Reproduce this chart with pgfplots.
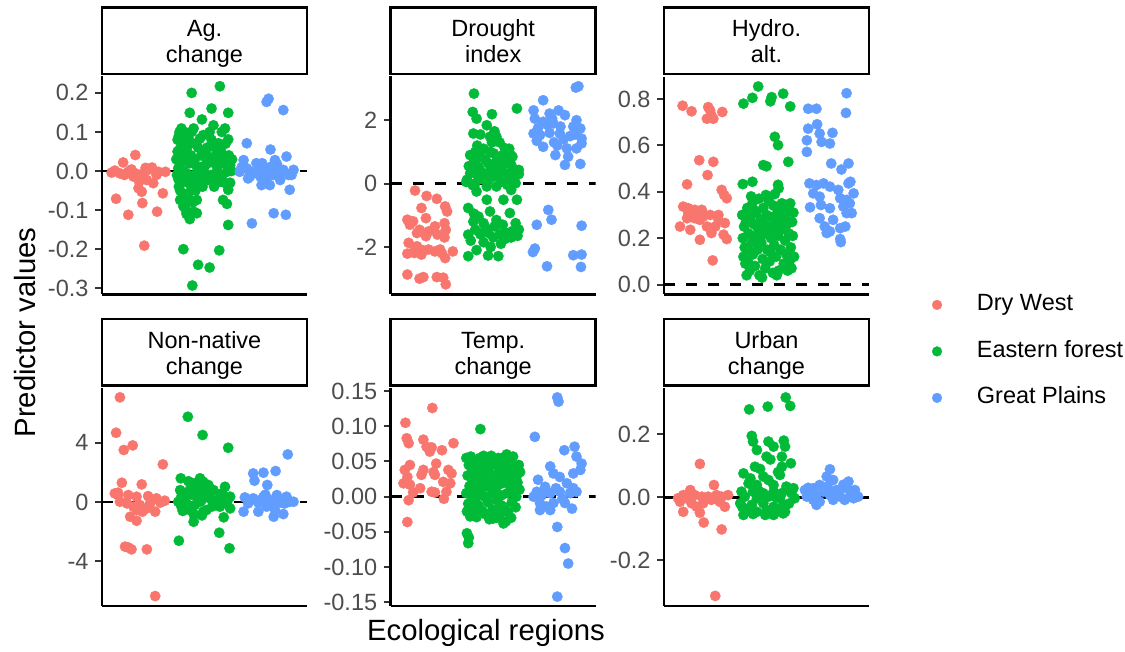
\documentclass[border=0pt]{standalone}
\usepackage{pgfplots}
\pgfplotsset{compat=1.18}
\usepackage{fontspec}
\setmainfont{Liberation Sans}
\definecolor{cR}{HTML}{F8766D}
\definecolor{cG}{HTML}{00BA38}
\definecolor{cB}{HTML}{619CFF}
\definecolor{tickgray}{HTML}{4D4D4D}
\newcommand{\tickfont}{\fontsize{23.5}{24}\selectfont}
\newcommand{\stripfont}{\fontsize{23.5}{24}\selectfont}
\pgfplotsset{
  panel/.style={
    scale only axis, width=205pt, height=218pt, anchor=south west,
    xmin=0.4, xmax=3.6,
    axis lines=left,
    axis line style={-, line width=2.6pt, black},
    xtick=\empty,
    tick align=outside,
    major tick length=7pt,
    ytick style={line width=2pt, color=black!80},
    yticklabel style={font=\tickfont, text=tickgray, xshift=-3pt},
    /pgf/number format/assume math mode=true,
  },
  strip/.style 2 args={
    extra description/.code={
      \draw[black, line width=2.6pt] ([yshift=2.6pt]axis description cs:0,1) rectangle ([yshift=68.8pt]axis description cs:1,1);
      \node[anchor=base, font=\stripfont, inner sep=0pt, yshift=39.7pt] at (axis description cs:0.5,1) {#1};
      \node[anchor=base, font=\stripfont, inner sep=0pt, yshift=13.8pt] at (axis description cs:0.5,1) {#2};
    }
  },
  pts/.style={only marks, mark=*, mark size=5.2pt, mark options={line width=0.3pt}},
  zline/.style={black, line width=2.5pt, dash pattern=on 11pt off 11pt, forget plot},
}
\begin{document}
\begin{tikzpicture}
\useasboundingbox (0,0) rectangle (1125pt,651pt);

% ---------- Panel 1: Ag. change
\begin{axis}[panel, at={(102pt,356.5pt)}, ymin=-0.316, ymax=0.242,
  ytick={-0.3,-0.2,-0.1,0,0.1,0.2}, yticklabels={-0.3,-0.2,-0.1,0.0,0.1,0.2},
  strip={Ag.}{change}]
\addplot[pts, color=cR] coordinates {(0.92,0.041)(0.73,0.022)(0.60,0.001)(0.68,-0.006)(0.81,-0.002)(0.92,-0.006)(1.02,-0.008)(1.12,0.003)(1.18,0.009)(1.28,-0.002)(1.39,-0.002)(1.10,-0.023)(1.20,-0.031)(1.02,-0.053)(1.35,-0.057)(0.62,-0.071)(1.03,-0.082)(1.26,-0.104)(0.81,-0.112)(1.06,-0.191)(0.98,-0.027)(0.89,-0.014)(0.55,-0.004)(1.25,-0.010)(0.97,-0.044)(0.75,-0.010)(1.08,0.008)(0.86,0.004)};
\addplot[pts, color=cG] coordinates {(1.80,0.200)(2.24,0.217)(1.77,0.149)(1.96,0.132)(2.11,0.160)(2.37,0.149)(2.14,0.117)(1.64,0.109)(1.83,0.109)(1.98,0.092)(2.32,0.109)(2.37,0.081)(2.27,0.100)(1.80,0.100)(1.70,0.079)(1.93,0.083)(2.01,0.049)(2.29,0.037)(1.62,0.058)(1.67,0.032)(1.77,0.020)(1.88,0.011)(2.03,0.020)(2.16,0.020)(2.40,0.015)(1.59,0.007)(1.72,-0.006)(1.98,-0.006)(2.19,-0.002)(2.35,-0.002)(1.64,-0.023)(1.83,-0.036)(1.93,-0.023)(2.06,-0.023)(2.24,-0.027)(2.37,-0.048)(1.75,-0.057)(1.88,-0.074)(1.70,-0.087)(1.83,-0.104)(1.77,-0.123)(1.88,-0.108)(2.29,-0.074)(2.35,-0.084)(2.37,-0.138)(1.67,-0.200)(1.90,-0.240)(2.08,-0.247)(2.23,-0.203)(1.81,-0.293)(1.62,-0.074)(1.72,0.037)(2.06,0.037)(2.14,0.062)(2.22,0.071)(1.56,0.03)(1.58,0.05)(1.60,0.09)(1.57,-0.01)(1.60,-0.04)(1.63,0.02)(1.65,0.07)(1.66,-0.06)(1.68,0.00)(1.69,0.10)(1.70,0.04)(1.71,-0.10)(1.73,0.06)(1.74,-0.03)(1.76,0.08)(1.78,-0.02)(1.79,0.04)(1.82,-0.08)(1.85,0.03)(1.86,-0.05)(1.90,0.06)(1.92,-0.01)(1.95,0.04)(1.97,-0.04)(2.00,0.01)(2.02,-0.02)(2.05,0.02)(2.08,0.10)(2.10,-0.01)(2.12,0.03)(2.15,-0.04)(2.18,0.04)(2.20,0.01)(2.26,0.05)(2.28,-0.01)(2.30,0.02)(2.33,0.07)(2.36,0.01)(2.40,-0.03)(2.42,0.00)(1.61,0.10)(1.59,-0.02)(1.64,0.04)(1.67,-0.09)(1.72,-0.11)(1.75,-0.07)(1.58,0.08)(1.62,-0.05)(1.68,0.06)(1.74,0.09)(1.79,-0.05)(1.86,0.07)(1.84,-0.01)(1.94,0.01)(2.04,0.06)(2.11,0.08)(2.17,-0.02)(2.25,0.02)(2.31,-0.03)(2.38,0.04)(2.43,0.03)};
\addplot[pts, color=cB] coordinates {(3.00,0.185)(2.97,0.177)(3.23,0.156)(2.66,0.071)(3.03,0.055)(3.28,0.037)(2.61,0.028)(2.81,0.020)(3.10,0.028)(2.66,0.007)(2.92,0.011)(2.97,-0.002)(3.23,0.003)(3.39,0.003)(2.76,-0.006)(2.87,-0.014)(2.55,-0.002)(2.71,-0.014)(3.07,-0.010)(3.18,-0.023)(2.89,-0.036)(3.02,-0.036)(3.33,-0.048)(2.74,-0.134)(3.08,-0.108)(3.27,-0.112)(3.15,-0.006)(3.31,-0.010)(2.68,-0.019)(2.97,-0.027)(2.58,0.010)(2.70,0.000)(2.84,0.005)(2.94,-0.015)(3.05,0.012)(3.12,-0.002)(3.20,0.000)(3.36,-0.010)(2.90,0.020)(3.13,0.018)};
\addplot[zline] coordinates {(0.4,0)(3.6,0)};
\end{axis}

% ---------- Panel 2: Drought index
\begin{axis}[panel, at={(390.7pt,356.5pt)}, ymin=-3.50, ymax=3.38,
  ytick={-2,0,2}, yticklabels={-2,0,2},
  strip={Drought}{index}]
\addplot[pts, color=cR] coordinates {(0.78,-0.22)(0.96,-0.39)(1.12,-0.48)(0.88,-0.77)(1.25,-0.72)(1.28,-0.88)(0.95,-1.09)(0.66,-1.14)(0.75,-1.19)(0.85,-1.46)(1.24,-1.25)(1.26,-1.46)(0.95,-1.66)(0.99,-1.51)(0.68,-1.87)(0.81,-1.98)(0.66,-2.21)(0.77,-2.19)(0.88,-2.24)(0.99,-2.08)(1.09,-2.14)(1.17,-2.08)(1.25,-2.35)(1.37,-2.14)(0.66,-2.87)(0.85,-3.00)(0.91,-2.95)(1.12,-2.95)(1.26,-3.18)(1.22,-2.97)(0.78,-2.04)(1.13,-1.61)(1.09,-1.35)(0.81,-1.56)(0.70,-1.30)(1.20,-2.20)(0.90,-2.10)(1.24,-1.70)(0.72,-1.20)};
\addplot[pts, color=cG] coordinates {(1.70,2.84)(2.37,2.37)(1.68,2.26)(1.98,2.19)(1.74,2.05)(1.90,1.84)(1.69,1.58)(1.95,1.48)(2.05,1.48)(2.10,1.30)(2.18,1.12)(1.98,1.30)(1.64,0.90)(1.80,0.85)(2.01,0.95)(2.22,0.80)(2.30,0.85)(1.77,0.53)(1.92,0.64)(2.13,0.53)(2.34,0.43)(2.40,0.43)(1.64,0.32)(1.85,0.32)(2.00,0.22)(2.22,0.32)(2.38,0.32)(1.59,0.12)(1.72,0.01)(1.90,-0.09)(2.05,-0.09)(2.22,-0.04)(2.35,0.01)(1.74,-0.25)(1.90,-0.51)(2.16,-0.51)(2.37,-0.51)(1.70,0.70)(1.85,1.10)(1.95,1.00)(2.05,0.70)(2.15,0.90)(2.25,1.10)(1.75,1.20)(1.80,0.40)(1.95,0.40)(2.10,0.20)(2.28,0.60)(1.62,0.55)(1.88,0.75)(2.00,0.50)(2.20,0.10)(2.32,0.20)(1.68,-0.05)(1.82,0.15)(2.12,0.05)(2.28,-0.20)(1.58,0.05)(1.80,1.55)(2.02,1.65)(1.72,1.00)(2.26,0.95)(1.66,0.45)(2.40,0.30)(1.76,0.25)(2.08,0.35)(1.92,0.10)(2.18,0.65)(1.61,-0.77)(1.77,-1.04)(1.95,-0.88)(2.26,-0.93)(1.69,-1.20)(1.85,-1.25)(2.05,-1.15)(2.15,-1.30)(2.35,-1.25)(1.61,-1.61)(1.72,-1.45)(1.80,-1.60)(1.92,-1.55)(2.00,-1.70)(2.10,-1.60)(2.20,-1.55)(2.30,-1.50)(2.40,-1.45)(1.65,-1.80)(1.85,-1.85)(1.96,-2.00)(2.12,-1.90)(2.28,-1.70)(1.61,-2.29)(1.74,-2.10)(1.92,-2.27)(2.08,-2.29)(2.18,-1.75)(1.70,-0.95)(2.38,-1.65)(1.88,-1.40)(2.02,-1.35)};
\addplot[pts, color=cB] coordinates {(3.29,3.03)(3.33,3.07)(2.78,2.63)(2.63,2.31)(2.88,2.21)(3.02,2.31)(2.65,2.05)(2.78,1.95)(3.12,2.16)(3.30,2.00)(2.94,1.90)(3.36,1.74)(2.63,1.58)(2.73,1.53)(2.88,1.60)(3.04,1.58)(3.20,1.50)(3.38,1.42)(2.78,1.16)(2.95,1.30)(3.38,1.27)(3.15,1.11)(3.30,1.11)(2.97,0.90)(3.17,0.85)(3.12,0.59)(3.36,0.62)(2.70,1.75)(2.85,1.85)(3.05,1.80)(3.25,1.80)(2.68,1.35)(3.10,1.40)(3.28,1.55)(3.00,1.20)(2.92,2.05)(2.86,-0.83)(2.91,-1.14)(2.68,-1.30)(3.38,-1.33)(2.62,-2.16)(2.65,-2.05)(3.25,-2.26)(3.38,-2.24)(2.84,-2.61)(3.37,-2.63)};
\addplot[zline] coordinates {(0.4,0)(3.6,0)};
\end{axis}

% ---------- Panel 3: Hydro. alt.
\begin{axis}[panel, at={(664pt,356.5pt)}, ymin=-0.043, ymax=0.897,
  ytick={0,0.2,0.4,0.6,0.8}, yticklabels={0.0,0.2,0.4,0.6,0.8},
  strip={Hydro.}{alt.},
  legend style={at={(axis description cs:1.307,-0.261)}, anchor=west, draw=none, fill=none,
    font=\fontsize{23.5}{24}\selectfont, inner sep=0pt,
    nodes={inner sep=0pt, text height=17pt, text depth=5pt},
    row sep=24.5pt, column sep=35pt},
  legend cell align=left,
  legend image code/.code={\draw[mark repeat=2,mark phase=2,#1,mark size=4.9pt] plot coordinates {(0pt,0pt)(5pt,0pt)(10pt,0pt)};}]
\addplot[pts, color=cR] coordinates {(0.69,0.771)(0.83,0.747)(1.09,0.765)(1.12,0.751)(1.07,0.715)(1.17,0.715)(1.31,0.744)(1.14,0.730)(0.95,0.536)(1.17,0.529)(1.08,0.472)(0.76,0.432)(1.30,0.408)(1.34,0.386)(1.38,0.372)(0.70,0.336)(0.78,0.329)(0.88,0.322)(0.99,0.322)(0.76,0.286)(0.88,0.286)(1.01,0.293)(1.12,0.300)(1.25,0.300)(0.65,0.250)(0.81,0.236)(1.07,0.250)(1.20,0.250)(1.35,0.265)(0.96,0.193)(1.33,0.215)(1.38,0.196)(1.16,0.104)(1.25,0.279)(0.96,0.279)(0.78,0.308)(1.14,0.222)};
\addlegendentry{Dry West}
\addplot[pts, color=cG] coordinates {(1.87,0.854)(1.78,0.805)(1.64,0.780)(2.08,0.808)(2.06,0.790)(2.26,0.823)(2.37,0.768)(2.13,0.637)(2.18,0.601)(1.95,0.515)(2.00,0.510)(2.34,0.529)(1.63,0.433)(1.78,0.443)(2.18,0.430)(2.19,0.415)(1.99,0.386)(1.62,0.30)(1.65,0.25)(1.63,0.20)(1.66,0.16)(1.64,0.12)(1.68,0.27)(1.70,0.33)(1.72,0.22)(1.71,0.10)(1.74,0.06)(1.75,0.29)(1.77,0.18)(1.78,0.35)(1.80,0.26)(1.79,0.13)(1.82,0.08)(1.84,0.31)(1.83,0.21)(1.86,0.15)(1.88,0.37)(1.87,0.24)(1.89,0.04)(1.91,0.28)(1.92,0.18)(1.94,0.11)(1.95,0.33)(1.97,0.22)(1.98,0.07)(2.00,0.30)(2.01,0.15)(2.03,0.25)(2.04,0.36)(2.05,0.10)(2.07,0.20)(2.08,0.29)(2.10,0.05)(2.11,0.34)(2.12,0.17)(2.14,0.26)(2.15,0.12)(2.17,0.31)(2.18,0.21)(2.19,0.06)(2.21,0.28)(2.22,0.15)(2.24,0.35)(2.25,0.24)(2.27,0.09)(2.28,0.30)(2.29,0.19)(2.31,0.13)(2.32,0.26)(2.34,0.33)(2.35,0.22)(2.36,0.10)(2.38,0.16)(2.40,0.27)(2.41,0.21)(2.43,0.12)(2.39,0.07)(1.69,0.04)(1.73,0.14)(1.81,0.32)(1.93,0.03)(2.02,0.37)(2.16,0.04)(2.26,0.33)(2.33,0.06)(1.85,0.19)(1.96,0.26)(2.06,0.14)(2.20,0.23)(2.30,0.28)(1.67,0.09)(2.42,0.31)(1.76,0.38)(2.13,0.39)(2.37,0.35)(1.90,0.20)(2.09,0.24)};
\addlegendentry{Eastern forest}
\addplot[pts, color=cB] coordinates {(3.25,0.825)(3.24,0.740)(2.65,0.758)(2.78,0.758)(2.79,0.691)(2.65,0.672)(2.83,0.651)(3.03,0.654)(2.63,0.622)(2.86,0.615)(2.99,0.608)(2.63,0.572)(3.01,0.522)(3.28,0.522)(3.17,0.496)(2.67,0.436)(2.78,0.429)(2.89,0.436)(2.99,0.422)(3.12,0.408)(3.28,0.436)(3.31,0.443)(2.73,0.393)(2.83,0.379)(3.15,0.372)(3.25,0.365)(2.68,0.333)(2.85,0.343)(2.99,0.329)(3.20,0.336)(3.30,0.350)(2.83,0.286)(3.25,0.308)(3.33,0.308)(2.91,0.250)(2.99,0.229)(3.15,0.243)(3.23,0.250)(2.94,0.222)(3.15,0.196)(3.16,0.183)(3.04,0.279)(3.36,0.393)};
\addlegendentry{Great Plains}
\addplot[zline] coordinates {(0.4,0)(3.6,0)};
\end{axis}

% ---------- Panel 4: Non-native change
\begin{axis}[panel, at={(102pt,45pt)}, ymin=-7.01, ymax=7.69,
  ytick={-4,0,4}, yticklabels={-4,0,4},
  strip={Non-native}{change}]
\addplot[pts, color=cR] coordinates {(0.68,7.06)(0.62,4.67)(0.74,3.51)(0.88,3.82)(1.35,2.54)(0.71,1.30)(1.02,1.19)(0.60,0.58)(0.65,0.47)(0.81,0.47)(0.94,0.36)(1.12,0.40)(1.25,0.25)(1.38,0.09)(0.79,-0.09)(0.89,-0.31)(0.99,-0.20)(1.10,-0.43)(1.23,-0.65)(0.94,-0.54)(0.84,-0.99)(0.94,-1.26)(1.03,-0.65)(0.76,-3.01)(0.86,-3.19)(1.10,-3.19)(1.23,-6.34)(0.68,0.02)(1.31,-0.04)(1.15,-0.09)(0.65,0.63)(1.18,0.13)(0.81,-3.06)};
\addplot[pts, color=cG] coordinates {(1.74,5.75)(1.97,4.52)(2.37,3.66)(1.63,1.60)(1.93,1.60)(1.83,1.26)(1.98,1.37)(2.06,1.15)(1.77,0.81)(1.88,0.92)(2.14,0.81)(2.32,1.03)(1.93,0.70)(1.70,0.58)(1.64,0.36)(1.88,0.36)(2.03,0.47)(2.24,0.36)(2.40,0.36)(1.59,0.02)(1.72,-0.09)(1.93,0.02)(2.14,-0.09)(2.35,-0.09)(1.64,-0.31)(1.77,-0.54)(2.03,-0.54)(2.24,-0.31)(2.40,-0.43)(1.83,-0.81)(1.98,-0.65)(1.83,-1.33)(2.30,-1.03)(1.60,-2.61)(2.23,-2.07)(2.39,-3.12)(1.68,0.20)(1.80,0.50)(1.95,0.10)(2.10,0.20)(2.20,-0.10)(1.85,-0.20)(2.05,1.00)(1.75,1.40)(1.90,1.20)(2.00,0.30)(1.66,-0.60)(2.28,0.60)(2.12,-0.30)(1.96,-0.90)(2.36,0.10)(1.62,0.80)};
\addplot[pts, color=cB] coordinates {(3.30,3.21)(3.11,2.09)(2.76,1.93)(2.92,1.98)(2.78,1.44)(2.98,1.15)(2.63,0.31)(2.76,0.25)(2.92,0.36)(3.13,0.47)(3.28,0.36)(3.39,0.02)(2.68,-0.09)(2.84,-0.04)(3.02,0.13)(3.18,-0.04)(3.33,0.02)(2.61,-0.65)(2.84,-0.65)(3.10,-0.54)(3.23,-0.81)(3.08,-0.99)(2.97,-0.31)(2.70,0.05)(2.88,0.15)(3.05,-0.20)(3.25,-0.10)(2.95,0.50)(3.15,0.20)};
\addplot[zline] coordinates {(0.4,0)(3.6,0)};
\end{axis}

% ---------- Panel 5: Temp. change
\begin{axis}[panel, at={(390.7pt,45pt)}, ymin=-0.1553, ymax=0.1544,
  ytick={-0.15,-0.1,-0.05,0,0.05,0.1,0.15}, yticklabels={-0.15,-0.10,-0.05,0.00,0.05,0.10,0.15},
  strip={Temp.}{change}]
\addplot[pts, color=cR] coordinates {(1.05,0.126)(0.63,0.105)(0.65,0.083)(0.68,0.076)(0.91,0.081)(0.96,0.071)(1.04,0.070)(1.38,0.076)(1.01,0.064)(1.20,0.066)(1.11,0.047)(0.70,0.045)(0.62,0.038)(0.91,0.038)(1.07,0.035)(1.30,0.038)(1.35,0.033)(0.66,0.028)(0.88,0.031)(1.09,0.031)(0.60,0.019)(0.70,0.017)(1.22,0.021)(1.33,0.019)(0.86,0.012)(0.75,0.006)(1.04,0.007)(1.09,0.006)(1.27,0.007)(0.68,-0.005)(1.23,-0.003)(0.66,-0.036)};
\addplot[pts, color=cG] coordinates {(1.80,0.096)(1.59,-0.052)(1.62,-0.058)(1.61,-0.066)(2.16,-0.038)(2.00,-0.031)(1.74,-0.029)(1.59,-0.021)(1.58,0.055)(1.62,0.045)(1.60,0.030)(1.63,0.015)(1.58,0.005)(1.61,-0.010)(1.65,0.057)(1.67,0.038)(1.68,0.022)(1.66,0.002)(1.69,-0.015)(1.70,0.050)(1.72,0.030)(1.73,0.010)(1.71,-0.005)(1.74,0.045)(1.76,0.020)(1.77,-0.012)(1.79,0.055)(1.80,0.035)(1.81,0.008)(1.83,-0.020)(1.84,0.042)(1.86,0.025)(1.87,0.000)(1.89,0.050)(1.90,0.015)(1.92,-0.008)(1.93,0.035)(1.95,0.044)(1.96,0.020)(1.98,0.005)(1.99,-0.018)(2.01,0.030)(2.03,0.048)(2.04,0.012)(2.06,-0.005)(2.07,0.025)(2.09,0.040)(2.10,-0.025)(2.11,0.018)(2.13,0.002)(2.14,0.055)(2.15,0.033)(2.17,-0.015)(2.18,0.045)(2.19,0.020)(2.21,0.060)(2.22,0.005)(2.23,-0.022)(2.25,0.038)(2.26,0.052)(2.27,0.015)(2.29,-0.008)(2.30,0.028)(2.31,0.057)(2.33,0.042)(2.34,0.010)(2.35,-0.015)(2.37,0.030)(2.38,0.020)(2.40,0.045)(2.41,0.010)(2.42,0.035)(2.36,0.000)(2.28,-0.030)(2.20,-0.035)(2.05,-0.030)(1.88,-0.025)(1.75,-0.020)(1.64,-0.028)(2.12,-0.012)(1.97,0.058)(1.85,0.058)(2.02,0.022)(2.24,0.028)(1.78,0.002)(1.94,-0.032)(2.08,0.055)};
\addplot[pts, color=cB] coordinates {(3.00,0.141)(3.02,0.135)(2.65,0.085)(3.11,0.066)(3.27,0.071)(3.30,0.057)(3.38,0.047)(2.89,0.043)(2.94,0.033)(3.04,0.028)(3.25,0.033)(3.36,0.038)(2.70,0.024)(2.81,0.014)(3.15,0.019)(3.25,0.012)(2.68,0.007)(2.89,0.005)(3.04,0.007)(3.20,0.005)(3.30,0.007)(2.63,0.000)(2.73,-0.009)(2.83,-0.014)(2.94,-0.009)(3.12,-0.009)(3.23,-0.017)(2.73,-0.019)(2.89,-0.019)(3.00,-0.043)(3.12,-0.073)(3.17,-0.095)(3.00,-0.142)(2.98,0.012)(3.08,-0.003)(2.76,0.002)};
\addplot[zline] coordinates {(0.4,0)(3.6,0)};
\end{axis}

% ---------- Panel 6: Urban change
\begin{axis}[panel, at={(664pt,45pt)}, ymin=-0.345, ymax=0.347,
  ytick={-0.2,0,0.2}, yticklabels={-0.2,0.0,0.2},
  strip={Urban}{change}]
\addplot[pts, color=cR] coordinates {(0.96,0.106)(1.18,0.039)(0.81,0.023)(0.70,0.007)(0.62,-0.003)(0.75,-0.003)(0.88,0.007)(0.99,0.002)(1.09,0.002)(1.22,0.007)(1.30,0.002)(1.40,0.007)(0.65,-0.014)(0.83,-0.019)(1.01,-0.019)(1.14,-0.008)(1.27,-0.014)(1.35,-0.030)(0.70,-0.046)(0.96,-0.049)(1.02,-0.080)(1.30,-0.102)(1.20,-0.313)(0.91,-0.030)};
\addplot[pts, color=cG] coordinates {(2.30,0.317)(2.37,0.290)(2.02,0.288)(1.73,0.279)(1.77,0.195)(1.79,0.177)(2.03,0.177)(2.27,0.180)(2.11,0.161)(1.85,0.150)(2.00,0.129)(2.24,0.129)(2.29,0.161)(2.38,0.108)(1.82,0.097)(2.24,0.097)(1.64,0.076)(2.21,0.071)(1.95,0.066)(2.03,0.055)(1.72,0.044)(1.85,0.039)(2.11,0.039)(2.31,0.034)(2.42,0.029)(1.61,0.018)(1.79,0.018)(1.95,0.013)(2.11,0.018)(2.24,0.013)(2.39,0.013)(1.66,0.002)(1.85,-0.003)(2.03,0.002)(2.21,-0.003)(2.44,-0.003)(1.59,-0.019)(1.77,-0.024)(1.95,-0.019)(2.11,-0.030)(2.26,-0.024)(1.69,-0.040)(1.85,-0.046)(2.00,-0.040)(2.16,-0.046)(2.29,-0.046)(1.64,-0.056)(1.79,-0.053)(1.98,-0.056)(2.11,-0.056)(2.26,-0.051)(1.75,0.060)(1.90,0.090)(2.06,0.120)(2.18,0.080)(1.62,-0.030)(2.35,-0.020)(2.15,0.000)(1.88,0.020)};
\addplot[pts, color=cB] coordinates {(2.99,0.089)(3.04,0.055)(2.94,0.066)(3.28,0.050)(2.83,0.039)(2.73,0.029)(2.60,0.023)(2.68,0.013)(2.89,0.018)(3.09,0.023)(3.25,0.029)(3.38,0.023)(2.63,0.002)(2.78,0.007)(2.99,0.007)(3.15,0.002)(3.30,0.002)(3.43,0.002)(2.73,-0.008)(2.83,-0.014)(3.04,-0.008)(3.22,-0.008)(3.36,-0.003)(2.78,-0.024)(2.65,0.030)(2.95,0.035)(3.12,0.015)(3.20,0.040)};
\addplot[zline] coordinates {(0.4,0)(3.6,0)};
\end{axis}

\node[rotate=90, anchor=base, font=\fontsize{29.3}{30}\selectfont] at (35pt,318.5pt) {Predictor values};
\node[anchor=base, font=\fontsize{29.3}{30}\selectfont] at (486pt,11pt) {Ecological regions};
\end{tikzpicture}
\end{document}
